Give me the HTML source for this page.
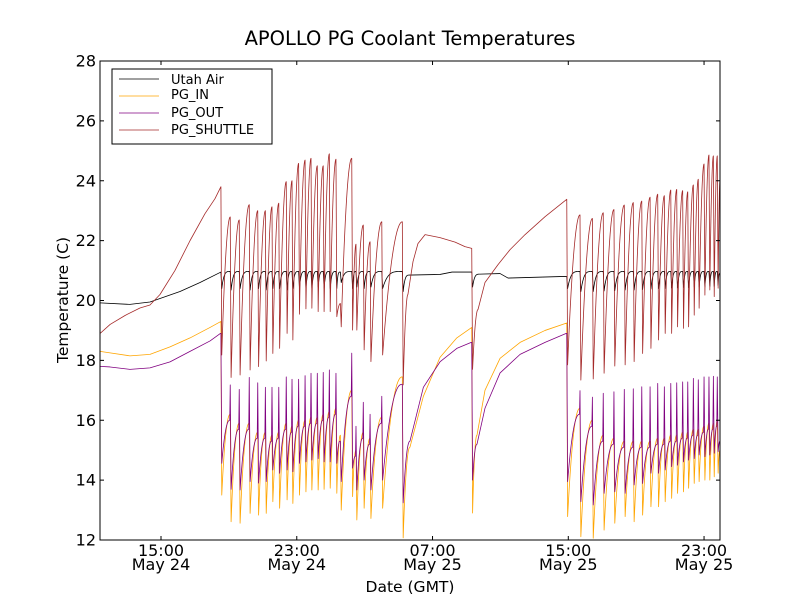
<!DOCTYPE html>
<html><head><meta charset="utf-8"><style>
html,body{margin:0;padding:0;background:#fff;}
svg{display:block;font-family:"DejaVu Sans","Liberation Sans",sans-serif;}
</style></head><body>
<svg id="chart" width="800" height="600" viewBox="0 0 800 600">
<rect x="0" y="0" width="800" height="600" fill="#fff"/>
<text x="410" y="45" text-anchor="middle" font-size="19.5">APOLLO PG Coolant Temperatures</text>
<defs><clipPath id="plotclip"><rect x="100" y="61" width="620" height="479"/></clipPath></defs>
<g id="series" clip-path="url(#plotclip)"></g>
<rect x="100" y="61" width="620" height="479" fill="none" stroke="#000" stroke-width="1"/>
<g id="axes"></g>
<text x="410" y="592" text-anchor="middle" font-size="15.5">Date (GMT)</text>
<text x="68" y="300" text-anchor="middle" font-size="15.5" transform="rotate(-90 68 300)">Temperature (C)</text>
<g>
<rect x="112" y="69" width="160" height="75" fill="#fff" stroke="#000" stroke-width="1"/>
<line x1="119" y1="79" x2="159" y2="79" stroke="#000" stroke-width="0.8"/>
<text x="171" y="84" font-size="13">Utah Air</text>
<line x1="119" y1="96" x2="159" y2="96" stroke="#ffa500" stroke-width="0.8"/>
<text x="171" y="99" font-size="13">PG_IN</text>
<line x1="119" y1="113" x2="159" y2="113" stroke="#800080" stroke-width="0.8"/>
<text x="171" y="117" font-size="13">PG_OUT</text>
<line x1="119" y1="130" x2="159" y2="130" stroke="#a52a2a" stroke-width="0.8"/>
<text x="171" y="134" font-size="13">PG_SHUTTLE</text>
</g>
</svg>
<script>
// hours since May 24 00:00
const xTickHours = [15, 23, 31, 39, 47];
const xTickTimes = ["15:00", "23:00", "07:00", "15:00", "23:00"];
const xTickDates = ["May 24", "May 24", "May 25", "May 25", "May 25"];
const yTicks = [12, 14, 16, 18, 20, 22, 24, 26, 28];

const eventTimes = [18.53,19.08,19.61,20.20,20.70,21.15,21.54,21.94,22.38,22.72,23.11,23.49,23.84,24.21,24.56,24.92,25.31,25.57,26.24,26.49,26.92,27.32,28.01,29.22,33.31,38.91,39.69,40.42,41.06,41.69,42.30,42.83,43.33,43.82,44.27,44.66,45.04,45.39,45.74,46.04,46.37,46.66,47.00,47.29,47.55,47.78];
const shuttlePeak = [23.8,22.79,22.69,23.2,23.0,23.0,23.13,23.25,23.97,24.0,24.58,24.69,24.75,24.5,24.5,24.9,24.72,19.9,24.75,21.88,22.52,21.96,22.63,22.63,21.74,23.38,22.86,22.74,22.93,23.04,23.19,23.27,23.32,23.45,23.55,23.5,23.69,23.71,23.67,23.63,23.86,24.05,24.56,24.86,24.83,24.83];
const shuttleTrough = [18.18,17.43,17.51,17.68,17.79,17.98,18.23,18.4,18.9,18.68,19.54,19.72,19.74,19.63,19.63,19.63,19.46,19.12,19.01,19.01,18.35,17.96,18.18,17.18,17.7,17.85,17.34,17.38,17.57,17.81,17.85,17.96,18.23,18.4,18.68,18.9,18.9,19.12,19.07,19.12,19.51,19.74,20.18,20.35,20.13,20.41];
const inPre = [19.3,16.2,15.9,15.9,15.6,15.6,15.5,15.6,15.9,15.8,16.0,16.0,16.1,16.1,16.2,16.3,16.4,15.5,17.0,15.0,15.6,15.4,16.1,17.45,19.1,19.25,16.4,16.0,15.5,15.4,15.3,15.3,15.3,15.3,15.4,15.4,15.5,15.5,15.6,15.6,15.7,15.7,15.8,15.9,15.9,16.0];
const inTrough = [13.5,12.61,12.56,12.89,12.83,12.89,13.28,13.06,13.34,13.22,13.5,13.61,13.67,13.67,13.69,13.73,13.56,13.0,13.45,12.67,13.06,12.72,13.06,12.07,12.9,12.78,12.11,12.06,12.33,12.56,12.78,12.61,12.83,13.11,13.11,13.28,13.39,13.56,13.61,13.73,13.89,13.95,14.0,14.0,14.11,14.23];
const outPre = [18.9,16.0,15.7,15.7,15.4,15.4,15.3,15.4,15.7,15.6,15.8,15.8,15.9,15.9,16.0,16.1,16.2,15.3,16.8,14.8,15.4,15.2,15.9,17.2,18.6,18.9,16.2,15.8,15.3,15.2,15.1,15.1,15.1,15.1,15.2,15.2,15.3,15.3,15.4,15.4,15.5,15.5,15.6,15.7,15.7,15.8];
const outSpike = [18.9,17.18,17.03,17.43,17.25,17.1,17.1,17.1,17.45,17.37,17.37,17.49,17.57,17.57,17.6,17.68,17.57,15.3,18.24,15.8,16.6,16.2,16.8,17.2,18.6,18.9,16.99,16.77,16.9,16.95,17.03,17.05,17.12,17.12,17.23,17.12,17.23,17.25,17.28,17.28,17.4,17.35,17.45,17.45,17.47,17.45];
const outTrough = [14.56,13.69,13.67,13.95,13.9,13.95,14.34,14.23,14.34,14.28,14.56,14.61,14.67,14.72,14.61,14.61,14.56,13.95,14.4,13.67,14.0,13.67,14.0,13.24,14.0,13.95,13.28,13.17,13.56,13.61,13.56,13.84,13.89,14.23,14.23,14.34,14.45,14.5,14.61,14.67,14.72,14.84,14.78,14.84,14.9,14.95];
const airPre = [20.95,20.97,20.97,20.97,20.97,20.97,20.97,20.97,20.97,20.97,20.97,20.97,20.97,20.97,20.97,20.97,20.97,20.95,20.97,20.97,20.97,20.97,20.97,20.97,20.95,20.8,20.97,20.97,20.97,20.97,20.97,20.97,20.97,20.97,20.97,20.97,20.97,20.97,20.97,20.97,20.97,20.97,20.97,20.97,20.97,20.97];
const airDip = [20.4,20.35,20.4,20.35,20.4,20.35,20.4,20.4,20.35,20.4,20.4,20.4,20.4,20.45,20.4,20.4,20.4,20.6,20.4,20.45,20.4,20.45,20.4,20.3,20.45,20.4,20.3,20.3,20.32,20.33,20.35,20.35,20.37,20.38,20.4,20.4,20.42,20.42,20.43,20.43,20.45,20.45,20.45,20.47,20.47,20.5];

const shuttleExtraT = [11.41,12.00,12.88,13.76,14.35,14.94,15.82,16.71,17.59,18.18,29.55,29.85,30.14,30.56,31.44,32.33,32.91,33.68,34.09,34.86,35.57,36.45,37.63,47.94];
const shuttleExtraV = [18.9,19.2,19.5,19.75,19.85,20.2,21.0,22.0,22.9,23.4,20.2,21.3,21.9,22.2,22.1,21.95,21.8,19.7,20.6,21.2,21.7,22.2,22.8,24.0];
const inExtraT = [11.41,12.00,13.17,14.35,15.53,16.71,17.89,29.67,30.46,31.44,32.43,33.62,34.09,34.98,36.16,37.63,47.94];
const inExtraV = [18.3,18.25,18.15,18.2,18.45,18.75,19.1,15.1,16.8,18.1,18.75,15.5,17.0,18.07,18.6,19.0,15.0];
const outExtraT = [11.41,12.00,13.17,14.35,15.53,16.71,17.89,29.67,30.46,31.44,32.43,33.62,34.09,34.98,36.16,37.63,47.94];
const outExtraV = [17.8,17.78,17.7,17.75,17.95,18.3,18.65,15.3,17.1,17.95,18.4,15.2,16.4,17.58,18.2,18.6,15.3];
const airExtraT = [11.41,13.17,14.35,16.12,17.30,29.67,31.44,32.15,33.80,34.98,35.45,38.51,47.94];
const airExtraV = [19.92,19.87,19.95,20.3,20.6,20.85,20.87,20.95,20.88,20.9,20.75,20.8,20.9];

const X0=100, X1=720, Y0=61, Y1=540, XMIN=11.405, XMAX=47.94, YMIN=12, YMAX=28;
function sx(h){ return X0 + (h - XMIN) / (XMAX - XMIN) * (X1 - X0); }
function sy(v){ return Y1 - (v - YMIN) / (YMAX - YMIN) * (Y1 - Y0); }
const NS = "http://www.w3.org/2000/svg";

function knots(extT, extV, kind){
  const k = [];
  for (let i = 0; i < extT.length; i++) k.push({t: extT[i], v: extV[i]});
  for (let i = 0; i < eventTimes.length; i++){
    const t = eventTimes[i];
    if (kind === 'shuttle'){ k.push({t: t, v: shuttlePeak[i]}); k.push({t: t + 0.05, v: shuttleTrough[i]}); }
    if (kind === 'in'){ k.push({t: t, v: inPre[i]}); k.push({t: t + 0.05, v: inTrough[i]}); }
    if (kind === 'out'){ k.push({t: t - 0.03, v: outPre[i]}); k.push({t: t, v: outSpike[i]}); k.push({t: t + 0.05, v: outTrough[i]}); }
    if (kind === 'air'){ k.push({t: t, v: airPre[i]}); k.push({t: t + 0.05, v: airDip[i]}); }
  }
  k.sort((a, b) => a.t - b.t);
  return k;
}

function pathFor(k, p){
  let d = "M" + sx(k[0].t).toFixed(2) + "," + sy(k[0].v).toFixed(2);
  for (let i = 1; i < k.length; i++){
    const a = k[i-1], b = k[i];
    const prevDrop = i >= 2 && a.v < k[i-2].v && (a.t - k[i-2].t) < 0.1;
    if (prevDrop && b.v > a.v){
      const n = 18;
      for (let j = 1; j <= n; j++){
        const f = j / n;
        const e = 1 - Math.pow(1 - f, p);
        d += "L" + sx(a.t + (b.t - a.t) * f).toFixed(2) + "," + sy(a.v + (b.v - a.v) * e).toFixed(2);
      }
    } else {
      d += "L" + sx(b.t).toFixed(2) + "," + sy(b.v).toFixed(2);
    }
  }
  return d;
}

const g = document.getElementById('series');
function addLine(d, color, name){
  const el = document.createElementNS(NS, 'path');
  el.setAttribute('d', d);
  el.setAttribute('fill', 'none');
  el.setAttribute('stroke', color);
  el.setAttribute('stroke-width', '0.8');
  el.setAttribute('stroke-linejoin', 'round');
  
  
  g.appendChild(el);
}
addLine(pathFor(knots(airExtraT, airExtraV, 'air'), 4), '#000', 'series-utah-air');
addLine(pathFor(knots(inExtraT, inExtraV, 'in'), 2.2), '#ffa500', 'series-pg-in');
addLine(pathFor(knots(outExtraT, outExtraV, 'out'), 2.2), '#800080', 'series-pg-out');
addLine(pathFor(knots(shuttleExtraT, shuttleExtraV, 'shuttle'), 2), '#a52a2a', 'series-pg-shuttle');

const ax = document.getElementById('axes');
for (let i = 0; i < yTicks.length; i++){
  const y = sy(yTicks[i]);
  const t1 = document.createElementNS(NS, 'path');
  t1.setAttribute('d', 'M100,' + y + 'h4M720,' + y + 'h-4');
  t1.setAttribute('stroke', '#000');
  
  
  ax.appendChild(t1);
  const tx = document.createElementNS(NS, 'text');
  tx.setAttribute('x', 96);
  tx.setAttribute('y', y + 5.5);
  tx.setAttribute('text-anchor', 'end');
  tx.setAttribute('font-size', '16');
  tx.textContent = yTicks[i];
  
  
  ax.appendChild(tx);
}
for (let i = 0; i < xTickHours.length; i++){
  const x = sx(xTickHours[i]);
  const t1 = document.createElementNS(NS, 'path');
  t1.setAttribute('d', 'M' + x + ',540v-4M' + x + ',61v4');
  t1.setAttribute('stroke', '#000');
  
  
  ax.appendChild(t1);
  const tx = document.createElementNS(NS, 'text');
  tx.setAttribute('x', x);
  tx.setAttribute('y', 556);
  tx.setAttribute('text-anchor', 'middle');
  tx.setAttribute('font-size', '16');
  tx.textContent = xTickTimes[i];
  
  
  ax.appendChild(tx);
  const td = document.createElementNS(NS, 'text');
  td.setAttribute('x', x);
  td.setAttribute('y', 570);
  td.setAttribute('text-anchor', 'middle');
  td.setAttribute('font-size', '16');
  td.textContent = xTickDates[i];
  
  
  ax.appendChild(td);
}
</script>
</body></html>
